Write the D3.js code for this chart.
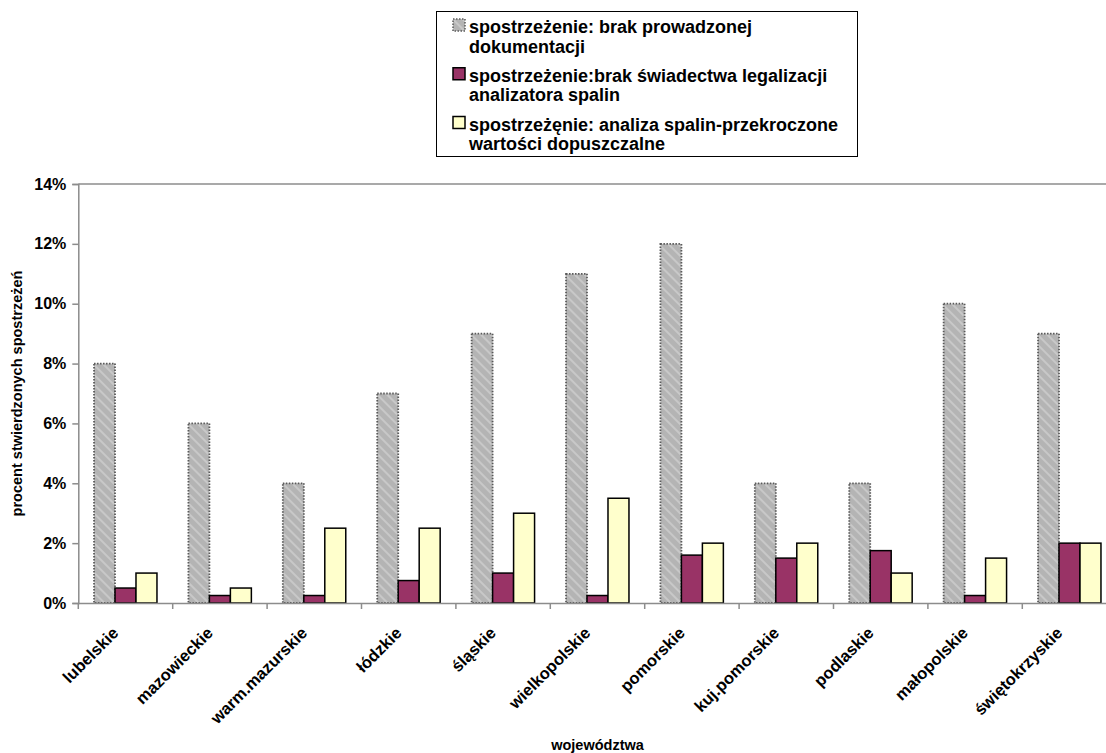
<!DOCTYPE html>
<html>
<head>
<meta charset="utf-8">
<script src="https://cdn.jsdelivr.net/npm/d3@7/dist/d3.min.js"></script>
<style>
  html, body { margin: 0; padding: 0; background: #fff; }
  svg { display: block; font-family: Arial, "Liberation Sans", sans-serif; font-weight: bold; }
</style>
</head>
<body>
<svg id="chart" width="1106" height="753"></svg>
<script>
// Provinces (województwa)
const categories = ["lubelskie", "mazowieckie", "warm.mazurskie", "łódzkie", "śląskie",
  "wielkopolskie", "pomorskie", "kuj.pomorskie", "podlaskie", "małopolskie", "świętokrzyskie"];

// Share of inspections with a given observation (%)
const brakDokumentacji = [8, 6, 4, 7, 9, 11, 12, 4, 4, 10, 9];
const brakLegalizacji = [0.5, 0.25, 0.25, 0.75, 1, 0.25, 1.6, 1.5, 1.75, 0.25, 2];
const przekroczoneWartosci = [1, 0.5, 2.5, 2.5, 3, 3.5, 2, 2, 1, 1.5, 2];

const seriesNames = [
  ["spostrzeżenie: brak prowadzonej", "dokumentacji"],
  ["spostrzeżenie:brak świadectwa legalizacji", "analizatora spalin"],
  ["spostrzeżęnie: analiza spalin-przekroczone", "wartości dopuszczalne"]
];
const yTicks = [0, 2, 4, 6, 8, 10, 12, 14];

const seriesValues = [brakDokumentacji, brakLegalizacji, przekroczoneWartosci];
const seriesFill = ["url(#hatch)", "#993366", "#FFFFCC"];

const svg = d3.select("#chart");

// Diagonal hatch used for the first series
const defs = svg.append("defs");
const pat = defs.append("pattern")
  .attr("id", "hatch")
  .attr("patternUnits", "userSpaceOnUse")
  .attr("width", 7).attr("height", 7)
  .attr("patternTransform", "rotate(-45)");
pat.append("rect").attr("width", 7).attr("height", 7).attr("fill", "#b4b4b4");
pat.append("rect").attr("x", 0).attr("width", 2).attr("height", 7).attr("fill", "#c8c8c8");

// Plot area
const plotLeft = 78.3, plotTop = 184, plotBottom = 603;
const step = 94.4;
const plotRight = plotLeft + step * categories.length;

const x = d3.scaleBand()
  .domain(categories)
  .range([plotLeft, plotRight])
  .paddingInner(1 / 3)
  .paddingOuter(1 / 6);

const xs = d3.scaleBand()
  .domain(d3.range(seriesValues.length))
  .range([0, x.bandwidth()])
  .padding(0);

const y = d3.scaleLinear().domain([0, 14]).range([plotBottom, plotTop]);

// Top grid line at 14%
svg.append("line")
  .attr("x1", plotLeft).attr("x2", plotRight)
  .attr("y1", y(14)).attr("y2", y(14))
  .attr("stroke", "#8c8c8c").attr("stroke-width", 1.5);

// Bars
const groups = svg.append("g").selectAll("g")
  .data(categories)
  .join("g")
  .attr("transform", d => `translate(${x(d)},0)`);

groups.selectAll("rect")
  .data((d, i) => seriesValues.map((s, k) => ({ k, v: s[i] })))
  .join("rect")
  .attr("x", d => xs(d.k))
  .attr("width", xs.bandwidth())
  .attr("y", d => y(d.v))
  .attr("height", d => y(0) - y(d.v))
  .attr("fill", d => seriesFill[d.k])
  .attr("stroke", d => d.k === 0 ? "#5a5a5a" : "#000")
  .attr("stroke-width", d => d.k === 0 ? 1.8 : 1.5)
  .attr("stroke-dasharray", d => d.k === 0 ? "1.5,1.5" : null);

// Y axis
const yAxis = d3.axisLeft(y)
  .tickValues(yTicks)
  .tickFormat(d => d + "%")
  .tickSize(6)
  .tickPadding(6);
const gy = svg.append("g").attr("transform", `translate(${plotLeft},0)`).call(yAxis);
gy.select(".domain").attr("stroke", "#8c8c8c").attr("stroke-width", 1.5);
gy.selectAll(".tick line").attr("stroke", "#8c8c8c").attr("stroke-width", 1.5);
gy.selectAll(".tick text")
  .attr("font-size", 16).attr("font-weight", "bold").attr("fill", "#000")
  .attr("font-family", "Arial, 'Liberation Sans', sans-serif");

// X axis: ticks between categories
const xAxis = d3.axisBottom(x).tickSize(0).tickFormat("");
const gx = svg.append("g").attr("transform", `translate(0,${plotBottom})`).call(xAxis);
gx.select(".domain").attr("stroke", "#8c8c8c").attr("stroke-width", 1.5);
gx.selectAll(".sep")
  .data(d3.range(categories.length + 1))
  .join("line")
  .attr("class", "sep")
  .attr("x1", i => plotLeft + i * step).attr("x2", i => plotLeft + i * step)
  .attr("y1", 0).attr("y2", 6)
  .attr("stroke", "#8c8c8c").attr("stroke-width", 1.5);

// Rotated category labels
svg.append("g").selectAll("text")
  .data(categories)
  .join("text")
  .attr("transform", d => `translate(${x(d) + x.bandwidth() / 2 - 6},${plotBottom + 31}) rotate(-45)`)
  .attr("text-anchor", "end")
  .attr("font-size", 16.5)
  .attr("fill", "#000")
  .text(d => d);

// Axis titles
svg.append("text")
  .attr("transform", `translate(22,${(plotTop + plotBottom) / 2}) rotate(-90)`)
  .attr("text-anchor", "middle")
  .attr("font-size", 14.5)
  .text("procent stwierdzonych spostrzeżeń");

svg.append("text")
  .attr("x", (plotLeft + plotRight) / 2)
  .attr("y", 750)
  .attr("text-anchor", "middle")
  .attr("font-size", 14.5)
  .text("województwa");

// Legend
const legend = svg.append("g");
legend.append("rect")
  .attr("x", 436.5).attr("y", 11.5)
  .attr("width", 421).attr("height", 145)
  .attr("fill", "#fff").attr("stroke", "#000").attr("stroke-width", 1);

const entry = legend.selectAll("g.entry")
  .data(seriesNames)
  .join("g")
  .attr("class", "entry")
  .attr("transform", (d, i) => `translate(0,${33 + i * 48.75})`);

entry.append("rect")
  .attr("x", 453).attr("y", -14)
  .attr("width", 12).attr("height", 12)
  .attr("fill", (d, i) => seriesFill[i])
  .attr("stroke", (d, i) => i === 0 ? "#5a5a5a" : "#000")
  .attr("stroke-width", 1.5)
  .attr("stroke-dasharray", (d, i) => i === 0 ? "1.5,1.5" : null);

entry.selectAll("text")
  .data(d => d)
  .join("text")
  .attr("x", 469)
  .attr("y", (d, j) => j * 19.5)
  .attr("font-size", 18)
  .attr("fill", "#000")
  .text(d => d);
</script>
</body>
</html>
